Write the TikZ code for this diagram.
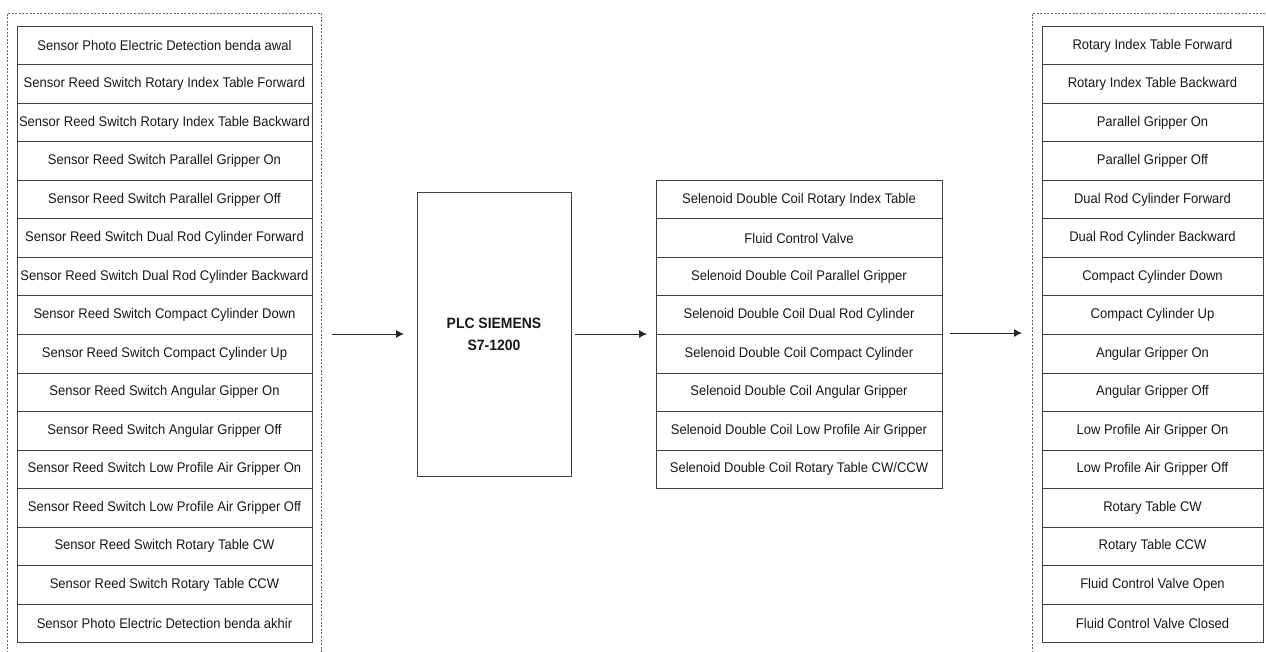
\documentclass[tikz,border=0pt]{standalone}
\usepackage{fontspec}
\setmainfont[FakeStretch=0.93]{Liberation Sans}
\usetikzlibrary{arrows.meta}

\tikzset{every picture/.style={line width=0.9pt}}
\tikzset{
  rowbox/.style={draw=black!75, fill=white, anchor=north, inner sep=0pt,
    minimum height=38.5pt, font=\fontsize{14}{16}\selectfont, text=black!90},
  framebox/.style={draw=black!60, dash pattern={on 2pt off 1.6pt}, line width=0.8pt},
  flow/.style={-{Latex[length=8pt,width=8pt]}, draw=black!85}
}

\begin{document}
\begin{tikzpicture}[x=1pt,y=1pt,yscale=-1,xscale=1]
        \useasboundingbox (0,0) rectangle (1266,652);

        % dashed frames
        \draw [framebox] (7,660) -- (7,13) -- (321,13) -- (321,660);
        \draw [framebox] (1032,660) -- (1032,13) -- (1275,13);

        % inputs
        \foreach \txt [count=\i] in {Sensor Photo Electric Detection benda awal,
            Sensor Reed Switch Rotary Index Table Forward,
            Sensor Reed Switch Rotary Index Table Backward,
            Sensor Reed Switch Parallel Gripper On,
            Sensor Reed Switch Parallel Gripper Off,
            Sensor Reed Switch Dual Rod Cylinder Forward,
            Sensor Reed Switch Dual Rod Cylinder Backward,
            Sensor Reed Switch Compact Cylinder Down,
            Sensor Reed Switch Compact Cylinder Up,
            Sensor Reed Switch Angular Gipper On,
            Sensor Reed Switch Angular Gripper Off,
            Sensor Reed Switch Low Profile Air Gripper On,
            Sensor Reed Switch Low Profile Air Gripper Off,
            Sensor Reed Switch Rotary Table CW,
            Sensor Reed Switch Rotary Table CCW,
            Sensor Photo Electric Detection benda akhir}
          \node [rowbox, minimum width=295pt] (in\i) at (164.5,{26+(\i-1)*38.5}) {\txt};

        % plc
        \node [draw=black!75, line width=1pt, minimum width=154pt, minimum height=283pt,
          align=center, font=\bfseries\fontsize{15}{22}\selectfont, text=black!90]
          (plc) at (494,334.5) {PLC SIEMENS\\S7-1200};

        % solenoids
        \foreach \txt [count=\i] in {Selenoid Double Coil Rotary Index Table,
            Fluid Control Valve,
            Selenoid Double Coil Parallel Gripper,
            Selenoid Double Coil Dual Rod Cylinder,
            Selenoid Double Coil Compact Cylinder,
            Selenoid Double Coil Angular Gripper,
            Selenoid Double Coil Low Profile Air Gripper,
            Selenoid Double Coil Rotary Table CW/CCW}
          \node [rowbox, minimum width=286pt] (sol\i) at (799,{180+(\i-1)*38.5}) {\txt};

        % outputs
        \foreach \txt [count=\i] in {Rotary Index Table Forward,
            Rotary Index Table Backward,
            Parallel Gripper On,
            Parallel Gripper Off,
            Dual Rod Cylinder Forward,
            Dual Rod Cylinder Backward,
            Compact Cylinder Down,
            Compact Cylinder Up,
            Angular Gripper On,
            Angular Gripper Off,
            Low Profile Air Gripper On,
            Low Profile Air Gripper Off,
            Rotary Table CW,
            Rotary Table CCW,
            Fluid Control Valve Open,
            Fluid Control Valve Closed}
          \node [rowbox, minimum width=221pt] (out\i) at (1152.5,{26+(\i-1)*38.5}) {\txt};

        % arrows
        \coordinate (a1) at (332,334);
        \coordinate (b1) at (404,334);
        \coordinate (a2) at (575,334);
        \coordinate (b2) at (647,334);
        \coordinate (a3) at (950,333);
        \coordinate (b3) at (1022,333);
        \draw [flow] (a1) -- (b1);
        \draw [flow] (a2) -- (b2);
        \draw [flow] (a3) -- (b3);
\end{tikzpicture}
\end{document}
